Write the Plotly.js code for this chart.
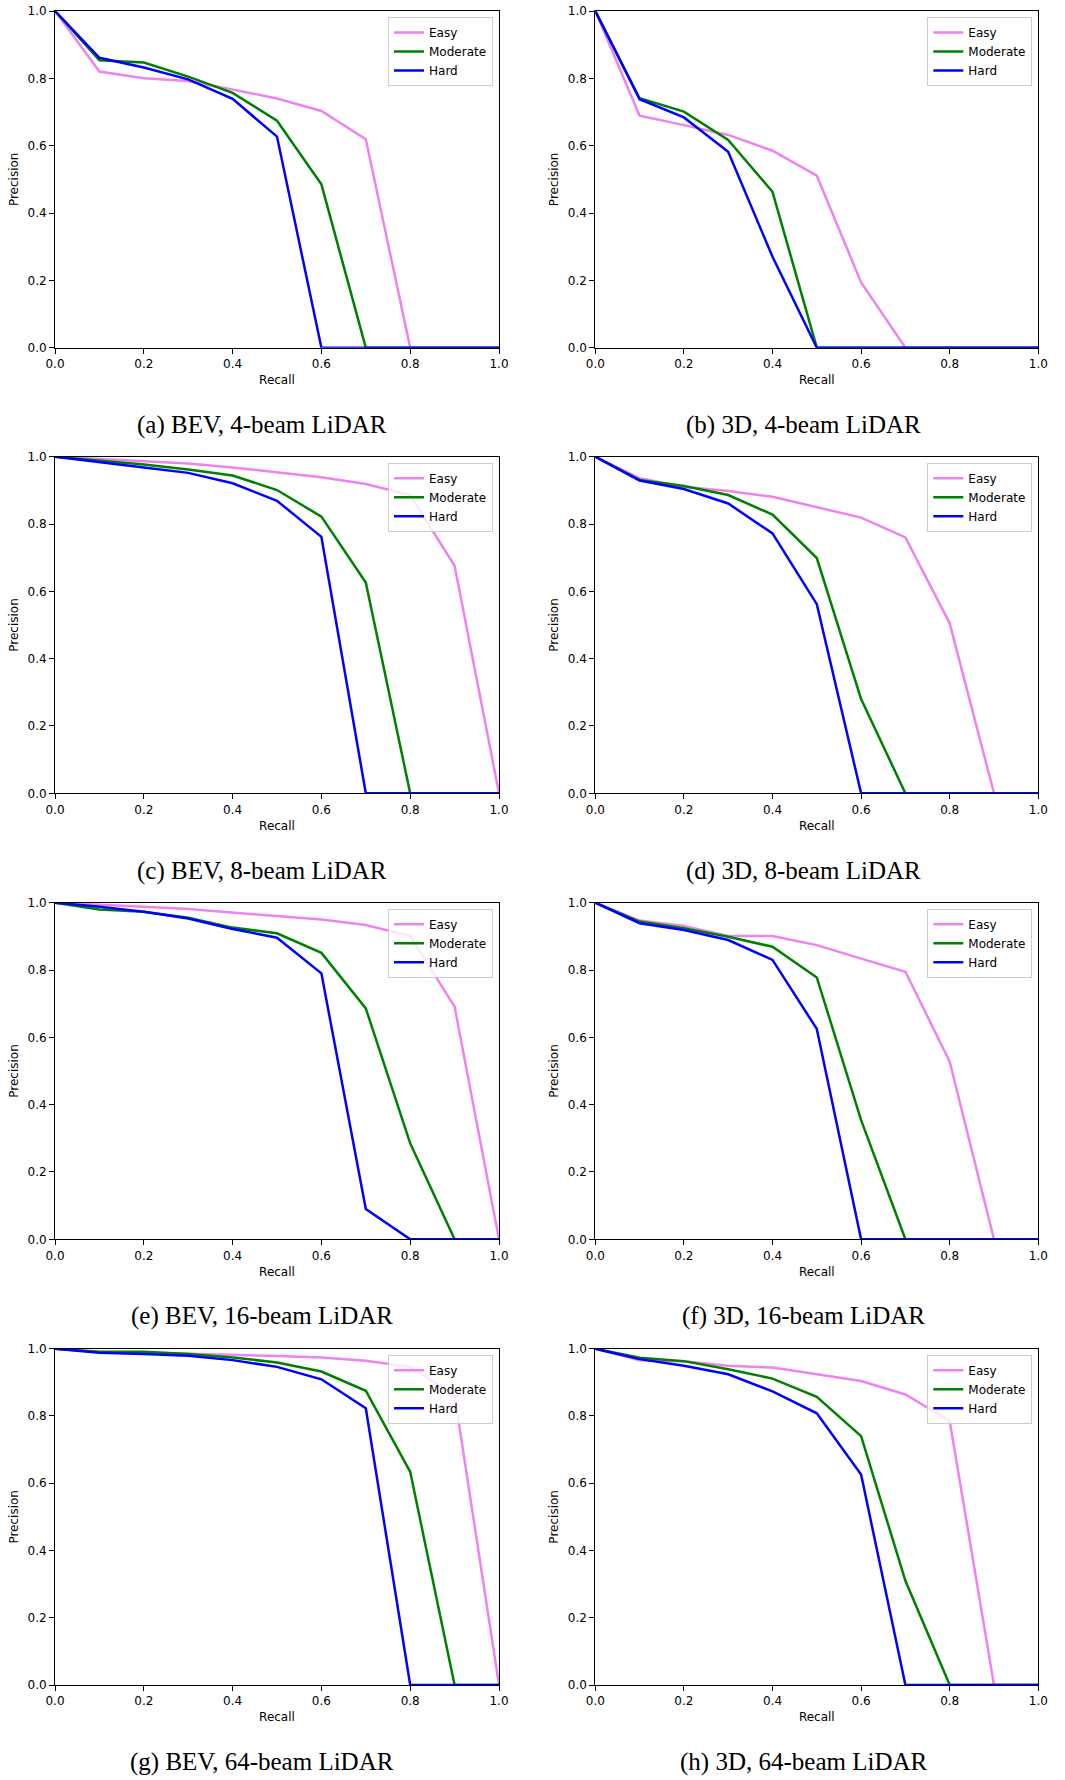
<!DOCTYPE html>
<html>
<head>
<meta charset="utf-8">
<script src="https://cdn.plot.ly/plotly-3.0.1.min.js"></script>
<style>
  html, body { margin: 0; padding: 0; background: #ffffff; }
  #chart { width: 1065px; height: 1780px; }
</style>
</head>
<body>
<div id="chart"></div>
<script>
// ---------------- DATA ----------------
const recall = [0.0, 0.1, 0.2, 0.3, 0.4, 0.5, 0.6, 0.7, 0.8, 0.9, 1.0];
const tickValues = [0.0, 0.2, 0.4, 0.6, 0.8, 1.0];
const tickLabels = ["0.0", "0.2", "0.4", "0.6", "0.8", "1.0"];
const seriesNames = ["Easy", "Moderate", "Hard"];
const seriesColors = ["violet", "green", "blue"];
const captions = [
  "(a) BEV, 4-beam LiDAR", "(b) 3D, 4-beam LiDAR",
  "(c) BEV, 8-beam LiDAR", "(d) 3D, 8-beam LiDAR",
  "(e) BEV, 16-beam LiDAR", "(f) 3D, 16-beam LiDAR",
  "(g) BEV, 64-beam LiDAR", "(h) 3D, 64-beam LiDAR"
];

// (a) BEV, 4-beam
const bev4Easy     = [1.0, 0.820, 0.800, 0.792, 0.767, 0.740, 0.703, 0.619, 0.0, 0.0, 0.0];
const bev4Moderate = [1.0, 0.854, 0.847, 0.805, 0.757, 0.674, 0.485, 0.0, 0.0, 0.0, 0.0];
const bev4Hard     = [1.0, 0.861, 0.832, 0.797, 0.739, 0.627, 0.0, 0.0, 0.0, 0.0, 0.0];
// (b) 3D, 4-beam
const d3_4Easy     = [1.0, 0.689, 0.661, 0.632, 0.585, 0.511, 0.194, 0.0, 0.0, 0.0, 0.0];
const d3_4Moderate = [1.0, 0.741, 0.701, 0.617, 0.463, 0.0, 0.0, 0.0, 0.0, 0.0, 0.0];
const d3_4Hard     = [1.0, 0.738, 0.684, 0.582, 0.270, 0.0, 0.0, 0.0, 0.0, 0.0, 0.0];
// (c) BEV, 8-beam
const bev8Easy     = [1.0, 0.993, 0.986, 0.980, 0.968, 0.953, 0.939, 0.919, 0.886, 0.676, 0.0];
const bev8Moderate = [1.0, 0.988, 0.977, 0.962, 0.944, 0.901, 0.822, 0.626, 0.0, 0.0, 0.0];
const bev8Hard     = [1.0, 0.985, 0.968, 0.952, 0.921, 0.869, 0.762, 0.0, 0.0, 0.0, 0.0];
// (d) 3D, 8-beam
const d3_8Easy     = [1.0, 0.936, 0.911, 0.898, 0.881, 0.851, 0.819, 0.760, 0.505, 0.0, 0.0];
const d3_8Moderate = [1.0, 0.931, 0.913, 0.886, 0.828, 0.699, 0.280, 0.0, 0.0, 0.0, 0.0];
const d3_8Hard     = [1.0, 0.929, 0.904, 0.861, 0.772, 0.562, 0.0, 0.0, 0.0, 0.0, 0.0];
// (e) BEV, 16-beam
const bev16Easy     = [1.0, 0.995, 0.988, 0.981, 0.971, 0.961, 0.950, 0.934, 0.901, 0.691, 0.0];
const bev16Moderate = [1.0, 0.980, 0.973, 0.955, 0.926, 0.909, 0.851, 0.686, 0.285, 0.0, 0.0];
const bev16Hard     = [1.0, 0.988, 0.973, 0.953, 0.922, 0.896, 0.790, 0.090, 0.0, 0.0, 0.0];
// (f) 3D, 16-beam
const d3_16Easy     = [1.0, 0.947, 0.931, 0.901, 0.901, 0.874, 0.834, 0.795, 0.528, 0.0, 0.0];
const d3_16Moderate = [1.0, 0.944, 0.924, 0.899, 0.869, 0.778, 0.354, 0.0, 0.0, 0.0, 0.0];
const d3_16Hard     = [1.0, 0.939, 0.919, 0.889, 0.830, 0.625, 0.0, 0.0, 0.0, 0.0, 0.0];
// (g) BEV, 64-beam
const bev64Easy     = [1.0, 0.990, 0.989, 0.986, 0.983, 0.978, 0.974, 0.964, 0.946, 0.862, 0.0];
const bev64Moderate = [1.0, 0.991, 0.991, 0.984, 0.974, 0.959, 0.932, 0.875, 0.634, 0.0, 0.0];
const bev64Hard     = [1.0, 0.988, 0.984, 0.979, 0.966, 0.946, 0.909, 0.823, 0.0, 0.0, 0.0];
// (h) 3D, 64-beam
const d3_64Easy     = [1.0, 0.966, 0.963, 0.949, 0.944, 0.924, 0.904, 0.864, 0.785, 0.0, 0.0];
const d3_64Moderate = [1.0, 0.973, 0.963, 0.939, 0.911, 0.857, 0.740, 0.310, 0.0, 0.0, 0.0];
const d3_64Hard     = [1.0, 0.969, 0.949, 0.924, 0.873, 0.808, 0.626, 0.0, 0.0, 0.0, 0.0];

const panels = [
  [bev4Easy, bev4Moderate, bev4Hard],
  [d3_4Easy, d3_4Moderate, d3_4Hard],
  [bev8Easy, bev8Moderate, bev8Hard],
  [d3_8Easy, d3_8Moderate, d3_8Hard],
  [bev16Easy, bev16Moderate, bev16Hard],
  [d3_16Easy, d3_16Moderate, d3_16Hard],
  [bev64Easy, bev64Moderate, bev64Hard],
  [d3_64Easy, d3_64Moderate, d3_64Hard]
];

// ---------------- LAYOUT GEOMETRY (pixels) ----------------
const W = 1065, H = 1780;
const colX = [[55, 499], [595.3, 1038.3]];
const rowY = [[11, 347.7], [456.7, 793.3], [902.7, 1239.3], [1348.7, 1685]];
const captionY = [425, 871, 1316, 1762];
const captionX = [262, 803];

const font = "DejaVu Sans, sans-serif";
const traces = [];
const layout = {
  width: W, height: H,
  margin: {l: 0, r: 0, t: 0, b: 0},
  paper_bgcolor: "#ffffff",
  plot_bgcolor: "#ffffff",
  font: {family: font, size: 12, color: "#000000"},
  showlegend: true,
  annotations: []
};

panels.forEach((series, p) => {
  const row = Math.floor(p / 2), col = p % 2;
  const n = p + 1;
  const xa = n === 1 ? "x" : "x" + n;
  const ya = n === 1 ? "y" : "y" + n;
  const lg = n === 1 ? "legend" : "legend" + n;
  series.forEach((vals, s) => {
    traces.push({
      type: "scatter", mode: "lines",
      x: recall, y: vals,
      name: seriesNames[s],
      xaxis: xa, yaxis: ya, legend: lg,
      line: {color: seriesColors[s], width: 2.5},
      hoverinfo: "x+y+name"
    });
  });
  const xd = [colX[col][0] / W, colX[col][1] / W];
  const yd = [1 - rowY[row][1] / H, 1 - rowY[row][0] / H];
  const axCommon = {
    range: [0, 1], tickmode: "array", tickvals: tickValues, ticktext: tickLabels,
    ticks: "outside", ticklen: 5, tickwidth: 1, tickcolor: "#000000",
    showline: true, linecolor: "#000000", linewidth: 1, mirror: true,
    showgrid: false, zeroline: false, fixedrange: true,
    tickfont: {family: font, size: 12, color: "#000000"}
  };
  layout["xaxis" + (n === 1 ? "" : n)] = Object.assign({}, axCommon, {
    domain: xd, anchor: ya,
    title: {text: "Recall", font: {family: font, size: 12, color: "#000000"}, standoff: 5}
  });
  layout["yaxis" + (n === 1 ? "" : n)] = Object.assign({}, axCommon, {
    domain: yd, anchor: xa,
    title: {text: "Precision", font: {family: font, size: 12, color: "#000000"}, standoff: 6}
  });
  layout[lg] = {
    x: (colX[col][1] - 6) / W, xanchor: "right",
    y: 1 - (rowY[row][0] + 6) / H, yanchor: "top",
    bgcolor: "rgba(255,255,255,0.8)", bordercolor: "#cccccc", borderwidth: 1,
    font: {family: font, size: 12, color: "#000000"},
    tracegroupgap: 0
  };
  layout.annotations.push({
    text: captions[p], showarrow: false,
    xref: "paper", yref: "paper",
    x: captionX[col] / W, y: 1 - captionY[row] / H,
    xanchor: "center", yanchor: "middle",
    font: {family: "Liberation Serif, serif", size: 25, color: "#000000"}
  });
});

Plotly.newPlot("chart", traces, layout, {displayModeBar: false, staticPlot: false});
</script>
</body>
</html>
